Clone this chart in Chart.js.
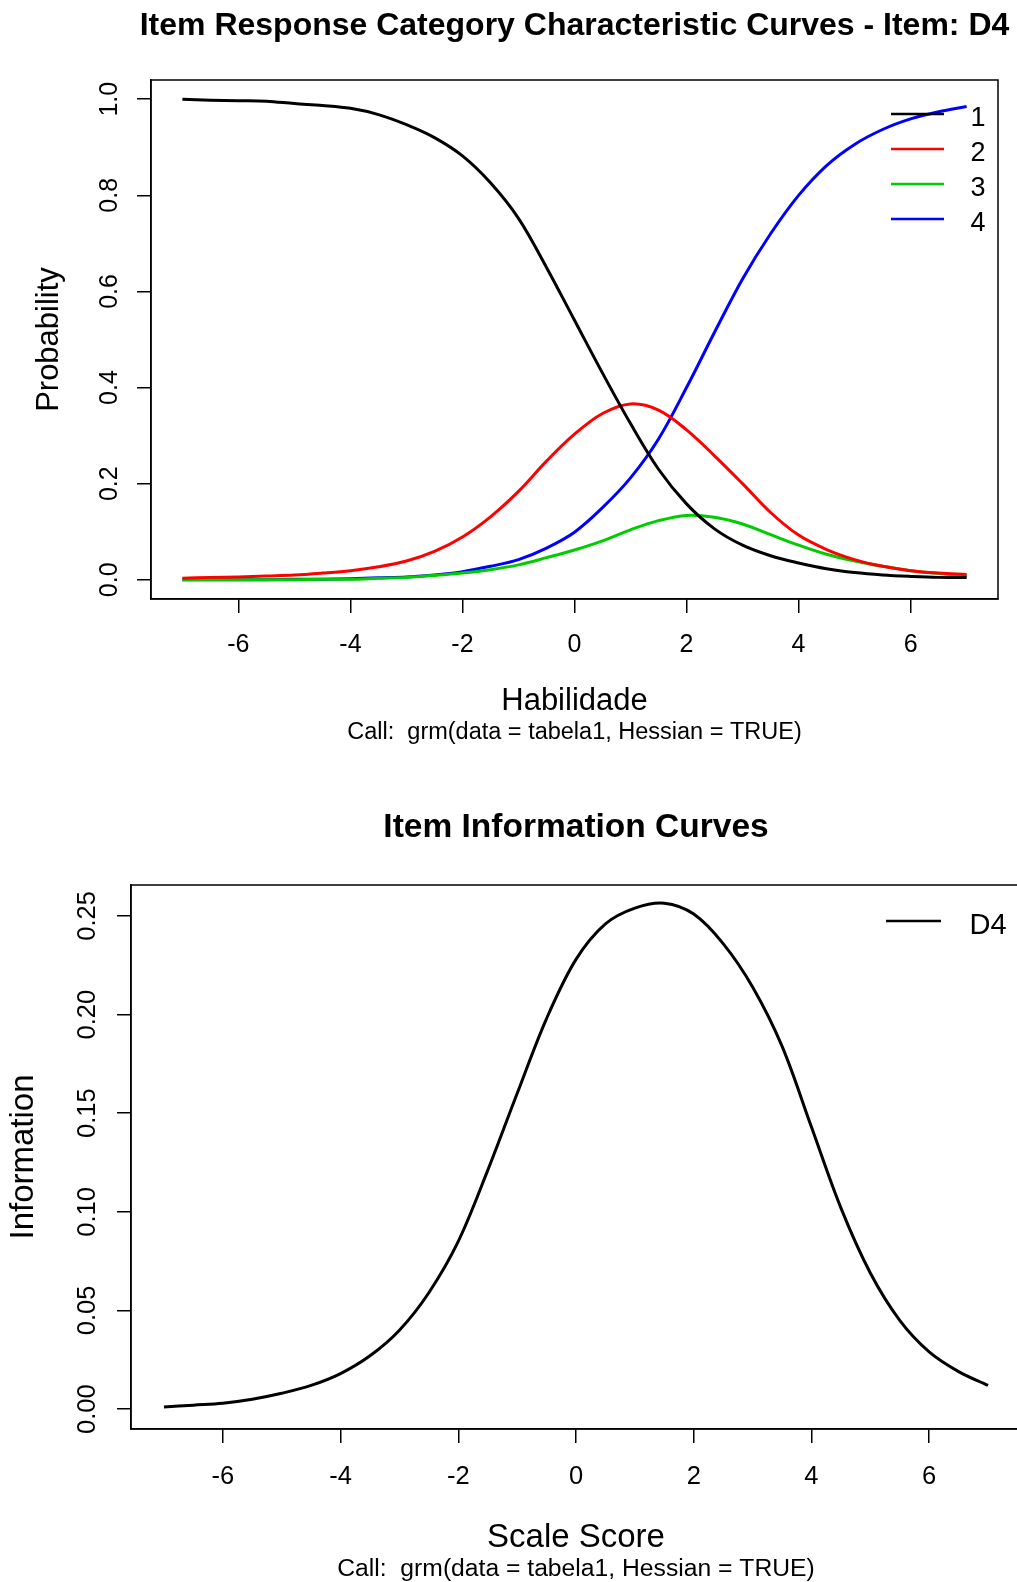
<!DOCTYPE html>
<html>
<head>
<meta charset="utf-8">
<script src="https://cdn.jsdelivr.net/npm/chart.js@4.4.1/dist/chart.umd.min.js"></script>
<style>
  html, body { margin: 0; padding: 0; background: #fff; }
  #page { position: relative; width: 1017px; height: 1582px; overflow: hidden; background: #fff; }
  canvas { position: absolute; left: 0; }
  #top { top: 0; }
  #bottom { top: 780px; }
</style>
</head>
<body>
<div id="page">
  <canvas id="top" width="1017" height="780"></canvas>
  <canvas id="bottom" width="1060" height="802"></canvas>
</div>
<script>
// ability / scale score grid
var theta = [-7, -6.5, -6, -5.5, -5, -4.5, -4, -3.5, -3, -2.5, -2, -1.5, -1, -0.5, 0,
             0.5, 1, 1.5, 2, 2.5, 3, 3.5, 4, 4.5, 5, 5.5, 6, 6.5, 7];

// category characteristic curves, item D4
var cat1 = [1.000, 0.998, 0.997, 0.996, 0.991, 0.987, 0.981, 0.968, 0.947, 0.920, 0.882, 0.826, 0.752, 0.650, 0.540,
            0.430, 0.325, 0.230, 0.158, 0.106, 0.072, 0.050, 0.035, 0.023, 0.015, 0.010, 0.007, 0.005, 0.005];
var cat2 = [0.003, 0.005, 0.006, 0.008, 0.010, 0.014, 0.019, 0.027, 0.039, 0.059, 0.089, 0.131, 0.184, 0.247, 0.303,
            0.346, 0.366, 0.353, 0.312, 0.258, 0.200, 0.140, 0.093, 0.063, 0.042, 0.028, 0.019, 0.014, 0.011];
var cat3 = [0.000, 0.000, 0.000, 0.000, 0.000, 0.001, 0.001, 0.003, 0.005, 0.009, 0.014, 0.021, 0.031, 0.046, 0.062,
            0.081, 0.104, 0.123, 0.134, 0.130, 0.116, 0.094, 0.072, 0.053, 0.039, 0.028, 0.019, 0.013, 0.008];
var cat4 = [0.000, 0.000, 0.000, 0.000, 0.001, 0.001, 0.002, 0.004, 0.006, 0.010, 0.017, 0.028, 0.042, 0.066, 0.099,
            0.150, 0.212, 0.293, 0.400, 0.515, 0.626, 0.720, 0.800, 0.862, 0.906, 0.937, 0.959, 0.974, 0.985];

// item information, D4
var infoD4 = [0.001, 0.002, 0.003, 0.005, 0.008, 0.012, 0.018, 0.027, 0.040, 0.059, 0.085, 0.121, 0.160, 0.198, 0.228,
              0.246, 0.254, 0.2565, 0.251, 0.236, 0.214, 0.184, 0.143, 0.102, 0.069, 0.045, 0.029, 0.019, 0.012];

var categories = ['1', '2', '3', '4'];
var catColors = ['#000000', '#FF0000', '#00CD00', '#0000FF'];
var xTicks = [-6, -4, -2, 0, 2, 4, 6];
var probTicks = [0, 0.2, 0.4, 0.6, 0.8, 1.0];
var infoTicks = [0, 0.05, 0.10, 0.15, 0.20, 0.25];

var FONT = '"Liberation Sans", Arial, sans-serif';

function pts(ys) {
  return theta.map(function (x, i) { return { x: x, y: ys[i] }; });
}

// draws the R style box, titles and legend
var rPlot = {
  id: 'rPlot',
  afterDatasetsDraw: function (chart, args, o) {
    var ctx = chart.ctx, a = chart.chartArea;
    var cx = (a.left + a.right) / 2;
    ctx.save();
    ctx.strokeStyle = '#000';
    ctx.lineWidth = 1.5;
    ctx.strokeRect(a.left, a.top, a.right - a.left, a.bottom - a.top);

    ctx.fillStyle = '#000';
    ctx.textAlign = 'center';
    ctx.textBaseline = 'middle';
    ctx.font = 'bold ' + o.titleSize + 'px ' + FONT;
    ctx.fillText(o.title, cx, o.titleY);
    ctx.font = o.labSize + 'px ' + FONT;
    ctx.fillText(o.xlab, cx, o.xlabY);
    ctx.font = o.subSize + 'px ' + FONT;
    ctx.fillText(o.sub, cx, o.subY);

    // legend
    ctx.lineWidth = o.leg.lineWidth;
    ctx.font = o.leg.size + 'px ' + FONT;
    chart.data.datasets.forEach(function (ds, i) {
      var y = o.leg.y + i * o.leg.dy;
      ctx.strokeStyle = ds.borderColor;
      ctx.beginPath();
      ctx.moveTo(o.leg.x1, y);
      ctx.lineTo(o.leg.x2, y);
      ctx.stroke();
      ctx.fillText(ds.label, o.leg.tx, y + o.leg.tdy);
    });

    ctx.translate(o.ylabX, (a.top + a.bottom) / 2);
    ctx.rotate(-Math.PI / 2);
    ctx.font = o.labSize + 'px ' + FONT;
    ctx.fillText(o.ylab, 0, 0);
    ctx.restore();
  }
};

function makeScales(s) {
  return {
    x: {
      type: 'linear', min: -7.56, max: 7.56,
      afterBuildTicks: function (sc) { sc.ticks = xTicks.map(function (v) { return { value: v }; }); },
      afterFit: function (sc) { sc.height = s.xHeight; },
      ticks: { color: '#000', font: { family: FONT, size: s.tickSize }, padding: s.xPad, maxRotation: 0,
               callback: function (v) { return String(v); } },
      grid: { drawOnChartArea: false, tickLength: 14, color: '#000', lineWidth: 1.5 },
      border: { color: '#000', width: 1.5 }
    },
    y: {
      type: 'linear', min: s.ymin, max: s.ymax,
      afterBuildTicks: function (sc) { sc.ticks = s.yTicks.map(function (v) { return { value: v }; }); },
      afterFit: function (sc) { sc.width = s.yWidth; },
      ticks: { color: '#000', font: { family: FONT, size: s.tickSize }, padding: s.yPad,
               minRotation: 90, maxRotation: 90, crossAlign: 'center',
               callback: function (v) { return v.toFixed(s.digits); } },
      grid: { drawOnChartArea: false, tickLength: 14, color: '#000', lineWidth: 1.5 },
      border: { color: '#000', width: 1.5 }
    }
  };
}

new Chart(document.getElementById('top'), {
  type: 'line',
  data: {
    datasets: [cat1, cat2, cat3, cat4].map(function (ys, i) {
      return { label: categories[i], data: pts(ys), borderColor: catColors[i], borderWidth: 3,
               pointRadius: 0, fill: false, tension: 0.35 };
    })
  },
  options: {
    responsive: false, animation: false, devicePixelRatio: 1,
    layout: { padding: { top: 80, right: 19, left: 0, bottom: 0 } },
    scales: makeScales({ xHeight: 181, yWidth: 151, tickSize: 25, xPad: 17, yPad: 10,
                         ymin: -0.04, ymax: 1.04, yTicks: probTicks, digits: 1 }),
    plugins: {
      legend: { display: false }, tooltip: { enabled: false },
      rPlot: {
        title: 'Item Response Category Characteristic Curves - Item: D4', titleSize: 32, titleY: 26,
        xlab: 'Habilidade', labSize: 31, xlabY: 701,
        sub: 'Call:  grm(data = tabela1, Hessian = TRUE)', subSize: 23.5, subY: 733,
        ylab: 'Probability', ylabX: 49,
        leg: { x1: 891, x2: 944, tx: 978, y: 114, dy: 35, tdy: 5, lineWidth: 2.5, size: 27 }
      }
    }
  },
  plugins: [rPlot]
});

new Chart(document.getElementById('bottom'), {
  type: 'line',
  data: {
    datasets: [{ label: 'D4', data: pts(infoD4), borderColor: '#000000', borderWidth: 3,
                 pointRadius: 0, fill: false, tension: 0.35 }]
  },
  options: {
    responsive: false, animation: false, devicePixelRatio: 1,
    layout: { padding: { top: 105, right: 39, left: 0, bottom: 0 } },
    scales: makeScales({ xHeight: 153, yWidth: 131, tickSize: 25.5, xPad: 19, yPad: 4,
                         ymin: -0.0101, ymax: 0.2657, yTicks: infoTicks, digits: 2 }),
    plugins: {
      legend: { display: false }, tooltip: { enabled: false },
      rPlot: {
        title: 'Item Information Curves', titleSize: 33.5, titleY: 48,
        xlab: 'Scale Score', labSize: 33, xlabY: 758,
        sub: 'Call:  grm(data = tabela1, Hessian = TRUE)', subSize: 24.7, subY: 789,
        ylab: 'Information', ylabX: 24,
        leg: { x1: 886, x2: 941, tx: 988, y: 141, dy: 35, tdy: 5, lineWidth: 2.5, size: 29 }
      }
    }
  },
  plugins: [rPlot]
});
</script>
</body>
</html>
